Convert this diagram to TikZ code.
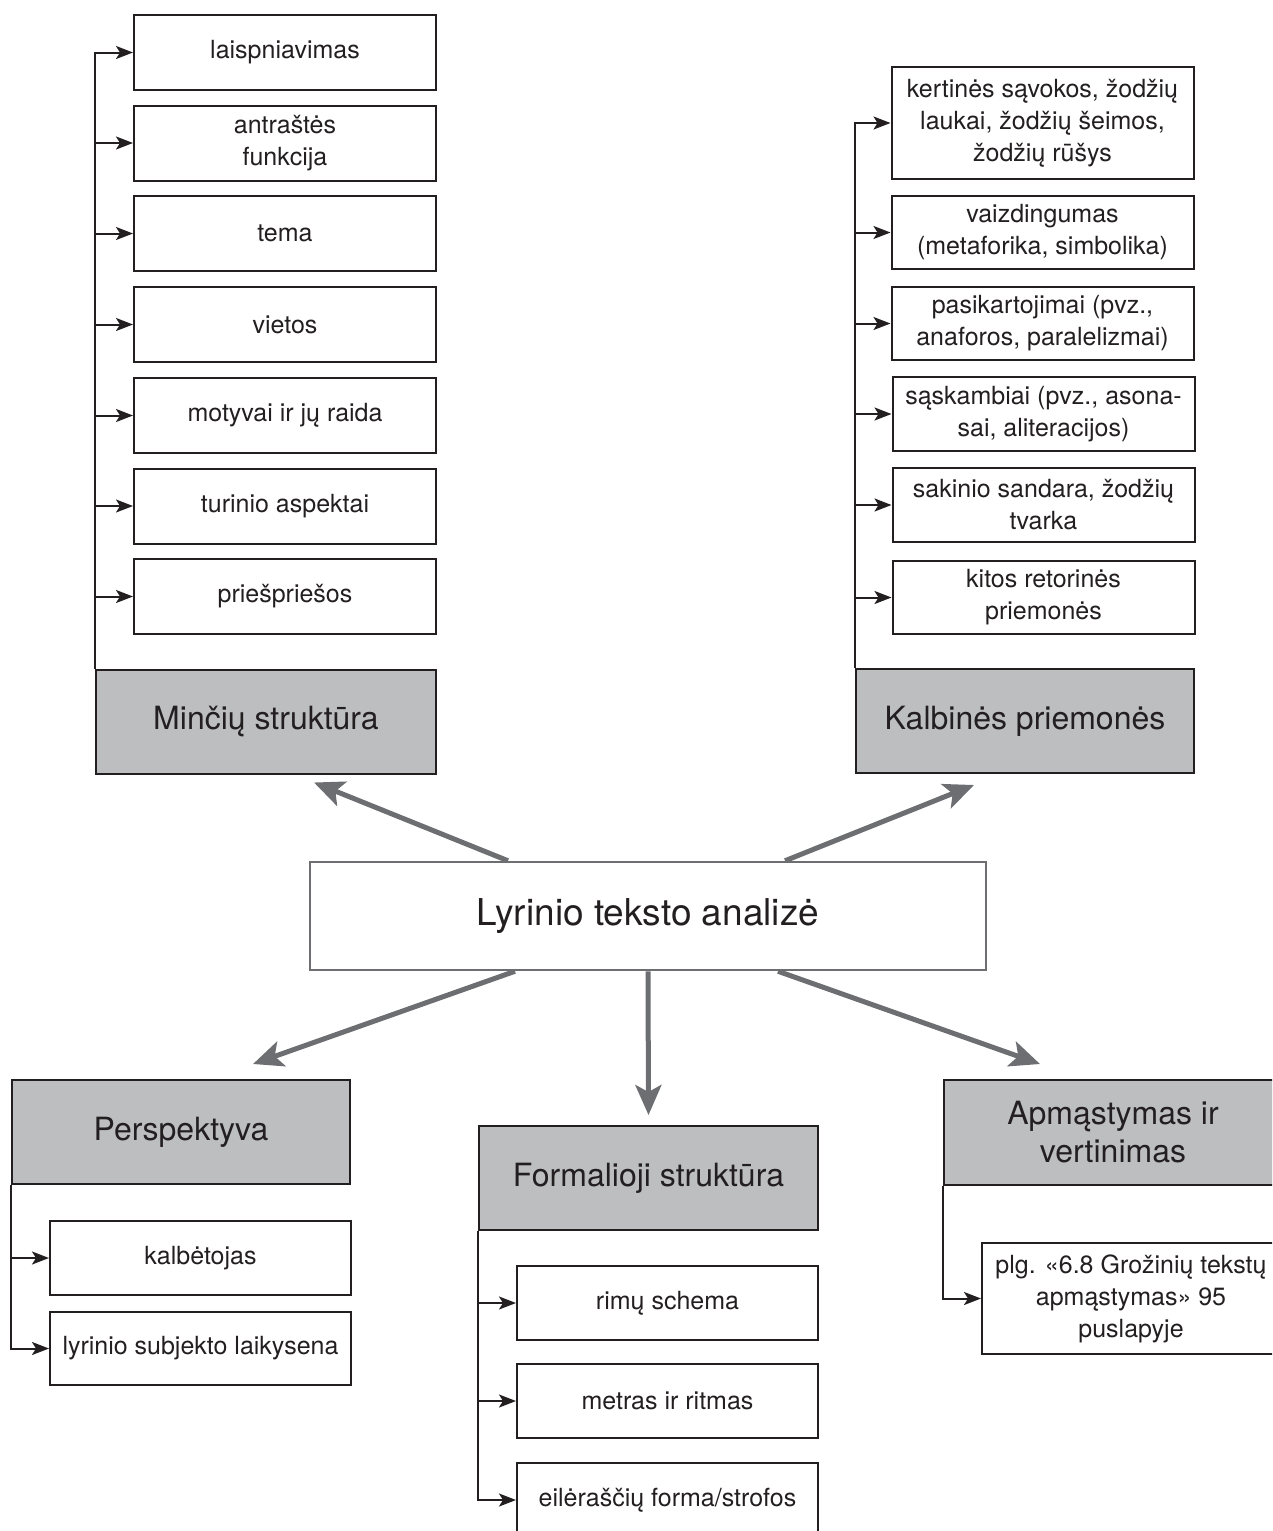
\documentclass[tikz,border=0pt]{standalone}
\usepackage{fontspec}
\setmainfont{TeX Gyre Heros}
\usetikzlibrary{arrows.meta}
\definecolor{ink}{HTML}{231F20}
\definecolor{headgray}{HTML}{BCBEC0}
\definecolor{linkgray}{HTML}{6D6E71}
\tikzset{
  item/.style={draw=ink, line width=2pt, fill=white, text=ink, align=center,
    inner sep=3pt, minimum width=302pt, minimum height=75pt,
    font=\fontsize{25}{32}\selectfont},
  head/.style={draw=ink, line width=2pt, fill=headgray, text=ink, align=center,
    minimum width=339pt, minimum height=104pt,
    font=\fontsize{32}{38}\selectfont},
  core/.style={draw=linkgray, line width=2.5pt, fill=white, text=ink,
    minimum width=676pt, minimum height=108pt,
    font=\fontsize{37}{44}\selectfont},
  feed/.style={draw=ink, line width=2pt, -{Stealth[length=17pt,width=13pt,inset=4pt]}},
  branch/.style={draw=linkgray, line width=5pt, -{Stealth[length=30pt,width=26pt,inset=7pt]}}
}
\begin{document}
\begin{tikzpicture}[x=1pt, y=-1pt]
  \useasboundingbox (0,0) rectangle (1272,1531);
  \clip (0,0) rectangle (1272,1531);
  % Minčių struktūra
  \node[item] (m1) at (285,52.5) {laispniavimas};
  \node[item] (m2) at (285,143) {antraštės\\funkcija};
  \node[item] (m3) at (285,233.5) {tema};
  \node[item] (m4) at (285,324.5) {vietos};
  \node[item] (m5) at (285,415.5) {motyvai ir jų raida};
  \node[item] (m6) at (285,506) {turinio aspektai};
  \node[item] (m7) at (285,596.5) {priešpriešos};
  \node[head, minimum width=340pt] (mhead) at (266,721.5) {Minčių struktūra};
  \draw[feed] (mhead.north west) |- (m1);
  \draw[feed] (mhead.north west) |- (m2);
  \draw[feed] (mhead.north west) |- (m3);
  \draw[feed] (mhead.north west) |- (m4);
  \draw[feed] (mhead.north west) |- (m5);
  \draw[feed] (mhead.north west) |- (m6);
  \draw[feed] (mhead.north west) |- (m7);
  % Kalbinės priemonės
  \node[item, minimum height=112pt] (k1) at (1042.5,123) {kertinės sąvokos, žodžių\\laukai, žodžių šeimos,\\žodžių rūšys};
  \node[item, minimum height=73pt] (k2) at (1042.5,232.5) {vaizdingumas\\(metaforika, simbolika)};
  \node[item, minimum height=73pt] (k3) at (1042.5,323.5) {pasikartojimai (pvz.,\\anaforos, paralelizmai)};
  \node[item, minimum height=74pt] (k4) at (1043.5,414) {sąskambiai (pvz., asona-\\sai, aliteracijos)};
  \node[item, minimum height=74pt] (k5) at (1043.5,505) {sakinio sandara, žodžių\\tvarka};
  \node[item, minimum height=73pt] (k6) at (1043.5,597.5) {kitos retorinės\\priemonės};
  \node[head, minimum width=338pt] (khead) at (1025,721) {Kalbinės priemonės};
  \draw[feed] (khead.north west) |- (k1);
  \draw[feed] (khead.north west) |- (k2);
  \draw[feed] (khead.north west) |- (k3);
  \draw[feed] (khead.north west) |- (k4);
  \draw[feed] (khead.north west) |- (k5);
  \draw[feed] (khead.north west) |- (k6);
  % centre
  \node[core] (lta) at (648,916) {Lyrinio teksto analizė};
  % Perspektyva
  \node[head, minimum width=338pt] (phead) at (181,1132) {Perspektyva};
  \node[item, minimum width=301pt, minimum height=74pt] (p1) at (200.5,1258) {kalbėtojas};
  \node[item, minimum width=301pt, minimum height=73pt] (p2) at (200.5,1348.5) {lyrinio subjekto laikysena};
  \draw[feed] (phead.south west) |- (p1);
  \draw[feed] (phead.south west) |- (p2);
  % Formalioji struktūra
  \node[head] (fhead) at (648.5,1178) {Formalioji struktūra};
  \node[item, minimum width=301pt, minimum height=74pt] (f1) at (667.5,1303) {rimų schema};
  \node[item, minimum width=301pt, minimum height=74pt] (f2) at (667.5,1401) {metras ir ritmas};
  \node[item, minimum width=301pt, minimum height=74pt] (f3) at (667.5,1500) {eilėraščių forma/strofos};
  \draw[feed] (fhead.south west) |- (f1);
  \draw[feed] (fhead.south west) |- (f2);
  \draw[feed] (fhead.south west) |- (f3);
  % Apmąstymas ir vertinimas
  \node[head, minimum width=338pt, minimum height=105pt] (ahead) at (1113,1132.5) {Apmąstymas ir\\vertinimas};
  \node[item, minimum width=298pt, minimum height=111pt] (a1) at (1131,1298.5) {plg. «6.8 Grožinių tekstų\\apmąstymas» 95\\puslapyje};
  \draw[feed] (ahead.south west) |- (a1);
  % branches
  \draw[branch] ([xshift=-140pt]lta.north) -- ([xshift=48pt,yshift=-8pt]mhead.south);
  \draw[branch] ([xshift=137pt]lta.north) -- ([xshift=-51pt,yshift=-11pt]khead.south);
  \draw[branch] ([xshift=-133pt]lta.south) -- ([xshift=72pt,yshift=15pt]phead.north);
  \draw[branch] (lta.south) -- ([yshift=10pt]fhead.north);
  \draw[branch] ([xshift=130pt]lta.south) -- ([xshift=-73pt,yshift=15pt]ahead.north);
\end{tikzpicture}
\end{document}
